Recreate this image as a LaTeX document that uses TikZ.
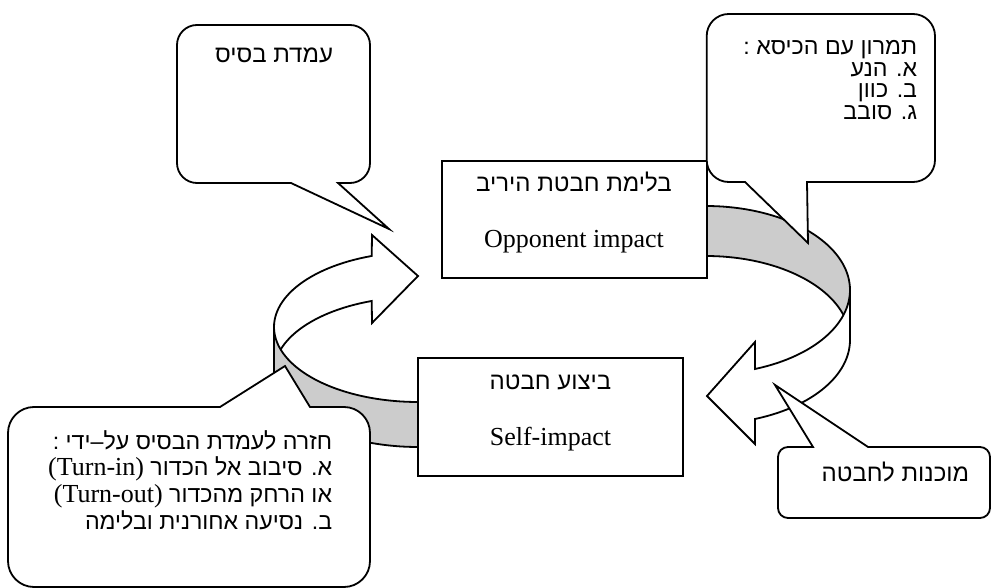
\documentclass[tikz,border=0pt]{standalone}
\usepackage{fontspec}
\setmainfont{Liberation Serif}
\newfontfamily\hebfont[Script=Hebrew]{Liberation Sans}
\TeXXeTstate=1
\definecolor{cBand}{RGB}{204,204,204}
\newcommand{\heb}[1]{\beginR#1\endR}
\newcommand{\lat}[1]{\beginL{\fontsize{13}{15}\rmfamily#1}\endL}

\begin{document}
\begin{tikzpicture}[x=0.5pt,y=-0.5pt,line width=0.9pt,line join=miter,
  impactBox/.style={draw,fill=white,minimum width=132.5pt,minimum height=58.8pt,inner sep=0pt},
  noteBubble/.style={draw,fill=white},
  arrowBand/.style={draw,fill=cBand},
  arrowFace/.style={draw,fill=white},
  boxHe/.style={font=\fontsize{12}{14}\hebfont,inner sep=0pt,anchor=base},
  boxEn/.style={font=\fontsize{13}{15}\selectfont,inner sep=0pt,anchor=base},
  noteHe/.style={font=\fontsize{12}{14}\hebfont,inner sep=0pt,anchor=base east},
  chairHe/.style={noteHe,font=\fontsize{11.6}{13}\hebfont},
  backHe/.style={noteHe,font=\fontsize{11.6}{14}\hebfont}]
\useasboundingbox (0,0) rectangle (991,588);

% right loop: back band, then front with head
\filldraw[arrowBand] plot[domain=-90:0,samples=40] ({706+144*cos(\x)},{290+84*sin(\x)})
  -- plot[domain=0:-90,samples=40] ({706+144*cos(\x)},{340+84*sin(\x)}) -- cycle;
\filldraw[arrowFace] plot[domain=0:70.1,samples=30] ({706+144*cos(\x)},{290+84*sin(\x)})
  -- (755,342) -- (707,396) -- (755,444)
  -- plot[domain=70.1:0,samples=30] ({706+144*cos(\x)},{340+84*sin(\x)}) -- cycle;

% left loop: front with head, band laid over it
\filldraw[arrowFace] plot[domain=180:251.25,samples=30] ({418+144*cos(\x)},{327+75*sin(\x)})
  -- (372,235) -- (418,276) -- (372,323)
  -- plot[domain=251.25:180,samples=30] ({418+144*cos(\x)},{372+75*sin(\x)}) -- cycle;
\filldraw[arrowBand] plot[domain=90:180,samples=40] ({418+144*cos(\x)},{327+75*sin(\x)})
  -- plot[domain=180:90,samples=40] ({418+144*cos(\x)},{372+75*sin(\x)}) -- cycle;

% the two stages
\node[impactBox] (opp) at (574.2,219.5) {};
\node[impactBox] (self) at (550.5,417.2) {};
\node[boxHe] (oppHe) at (574,192) {\heb{בלימת חבטת היריב}};
\node[boxEn] (oppEn) at (574,248) {Opponent impact};
\node[boxHe] (selfHe) at (550.5,389) {\heb{ביצוע חבטה}};
\node[boxEn] (selfEn) at (550.5,445) {Self-impact};

% callouts
\filldraw[noteBubble] (338,183) -- (350,183) arc[start angle=270,end angle=360,radius=10pt]
  -- (370,45) arc[start angle=0,end angle=90,radius=10pt]
  -- (197,25) arc[start angle=90,end angle=180,radius=10pt]
  -- (177,163) arc[start angle=180,end angle=270,radius=10pt]
  -- (291,183) -- (389,229) -- cycle;
\node[noteHe,anchor=base] (baseTxt) at (274,63) {\heb{עמדת בסיס}};

\filldraw[noteBubble] (807,182) -- (913,182) arc[start angle=270,end angle=360,radius=11pt]
  -- (935,36) arc[start angle=0,end angle=90,radius=11pt]
  -- (728.7,14) arc[start angle=90,end angle=180,radius=11pt]
  -- (706.7,160) arc[start angle=180,end angle=270,radius=11pt]
  -- (745,182) -- (808,243) -- cycle;
\node[chairHe] (chairA) at (918,55) {\heb{תמרון עם הכיסא :}};
\node[chairHe] (chairB) at (918,77) {\heb{א. הנע}};
\node[chairHe] (chairC) at (918,98) {\heb{ב. כוון}};
\node[chairHe] (chairD) at (918,120) {\heb{ג. סובב}};

\filldraw[noteBubble] (310,407) -- (344,407) arc[start angle=90,end angle=0,radius=13pt]
  -- (370,561) arc[start angle=0,end angle=-90,radius=13pt]
  -- (34,587) arc[start angle=270,end angle=180,radius=13pt]
  -- (8,433) arc[start angle=180,end angle=90,radius=13pt]
  -- (220,407) -- (285,366) -- cycle;
\node[backHe] (backA) at (333,449) {\heb{חזרה לעמדת הבסיס על–ידי :}};
\node[backHe] (backB) at (333,475.5) {\heb{א. סיבוב אל הכדור \lat{(Turn-in)}}};
\node[backHe] (backC) at (333,502) {\heb{או הרחק מהכדור \lat{(Turn-out)}}};
\node[backHe] (backD) at (333,529) {\heb{ב. נסיעה אחורנית ובלימה}};

\filldraw[noteBubble] (868,447) -- (980,447) arc[start angle=90,end angle=0,radius=5pt]
  -- (990,508) arc[start angle=0,end angle=-90,radius=5pt]
  -- (788,518) arc[start angle=270,end angle=180,radius=5pt]
  -- (778,457) arc[start angle=180,end angle=90,radius=5pt]
  -- (813,447) -- (775,385) -- cycle;
\node[noteHe] (readyTxt) at (970,481) {\heb{מוכנות לחבטה}};
\end{tikzpicture}
\end{document}
